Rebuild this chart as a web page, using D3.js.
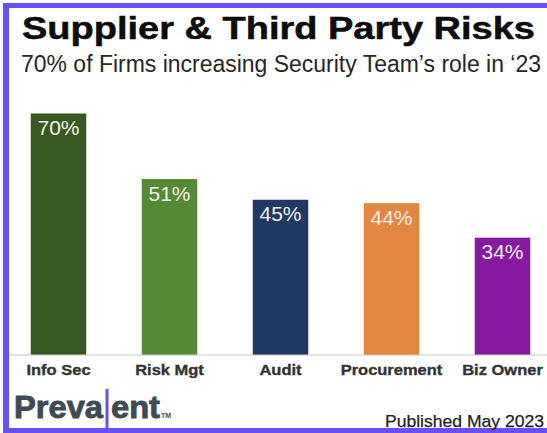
<!DOCTYPE html>
<html>
<head>
<meta charset="utf-8">
<script src="https://cdn.jsdelivr.net/npm/d3@7"></script>
<style>
  html, body { margin: 0; padding: 0; background: #fff; }
  svg { display: block; }
  text { font-family: Arial, "Liberation Sans", Helvetica, sans-serif; }
</style>
</head>
<body>
<svg id="chart" width="547" height="433"></svg>
<script>
const categories = ["Info Sec", "Risk Mgt", "Audit", "Procurement", "Biz Owner"];
const values = [70, 51, 45, 44, 34];
const barColors = ["#385a22", "#548a33", "#1f3864", "#e3863f", "#8618a2"];
const title = "Supplier & Third Party Risks";
const subtitle = "70% of Firms increasing Security Team\u2019s role in \u201823";
const footer = "Published May 2023";

const W = 547, H = 433;
const svg = d3.select("#chart");

// frame
svg.append("rect").attr("x", 3).attr("y", 3).attr("width", W).attr("height", H).attr("fill", "#6c4ef5");
svg.append("rect").attr("x", 9).attr("y", 8).attr("width", W).attr("height", 420).attr("fill", "#ffffff");

const x = d3.scaleBand().domain(categories).range([3, 558]).paddingInner(0.5).paddingOuter(0.25);
const y = d3.scaleLinear().domain([0, 100]).range([355, 10]);

const data = categories.map((c, i) => ({ cat: c, val: values[i], color: barColors[i] }));

// bars
svg.append("g").selectAll("rect").data(data).join("rect")
  .attr("x", d => x(d.cat))
  .attr("y", d => y(d.val))
  .attr("width", x.bandwidth())
  .attr("height", d => y(0) - y(d.val))
  .attr("fill", d => d.color);

// baseline axis
const axis = svg.append("g").attr("transform", `translate(0,${y(0)})`)
  .call(d3.axisBottom(x).tickSize(0).tickPadding(0));
axis.select(".domain").remove();
axis.append("line").attr("x1", 9).attr("x2", W).attr("y1", 0).attr("y2", 0)
  .attr("stroke", "#c8c8c8").attr("stroke-width", 1.2);
axis.selectAll(".tick text").remove();
axis.selectAll(".tick").append("text")
  .attr("transform", "translate(0,20) scale(1.1,1)")
  .attr("text-anchor", "middle")
  .attr("font-size", 15)
  .attr("font-weight", "bold")
  .attr("fill", "#333333")
  .attr("stroke", "#333333").attr("stroke-width", 0.35)
  .text(d => d);

// value labels
svg.append("g").selectAll("text").data(data).join("text")
  .attr("x", d => x(d.cat) + x.bandwidth() / 2)
  .attr("y", d => y(d.val) + 21.5)
  .attr("text-anchor", "middle")
  .attr("font-size", 21)
  .attr("fill", "#f2f2ee")
  .text(d => d.val + "%");

// title & subtitle
svg.append("text").attr("x", 22).attr("y", 38.5)
  .attr("font-size", 31).attr("font-weight", "bold").attr("fill", "#0d0d0d")
  .attr("stroke", "#0d0d0d").attr("stroke-width", 0.5)
  .attr("textLength", 513).attr("lengthAdjust", "spacingAndGlyphs")
  .text(title);
svg.append("text").attr("x", 21).attr("y", 71.5)
  .attr("font-size", 23).attr("fill", "#262626")
  .attr("textLength", 520).attr("lengthAdjust", "spacingAndGlyphs")
  .text(subtitle);

// logo
const logo = svg.append("g").attr("fill", "#3e4a56").attr("stroke", "#3e4a56").attr("stroke-width", 0.9);
logo.append("text").attr("x", 14).attr("y", 418)
  .attr("font-size", 32).attr("font-weight", "bold")
  .attr("textLength", 89).attr("lengthAdjust", "spacingAndGlyphs")
  .text("Preva");
logo.append("text").attr("x", 111).attr("y", 418)
  .attr("font-size", 32).attr("font-weight", "bold")
  .attr("textLength", 49).attr("lengthAdjust", "spacingAndGlyphs")
  .text("ent");
logo.append("text").attr("x", 161).attr("y", 418)
  .attr("font-size", 7).attr("font-weight", "bold").attr("stroke-width", 0)
  .text("TM");
svg.append("rect").attr("x", 105.5).attr("y", 389).attr("width", 3).attr("height", 41).attr("fill", "#6c4ef5");

// footer
svg.append("text").attr("x", 385).attr("y", 427)
  .attr("font-size", 17).attr("fill", "#222222")
  .attr("stroke", "#222222").attr("stroke-width", 0.25)
  .attr("textLength", 159).attr("lengthAdjust", "spacingAndGlyphs")
  .text(footer);
</script>
</body>
</html>
